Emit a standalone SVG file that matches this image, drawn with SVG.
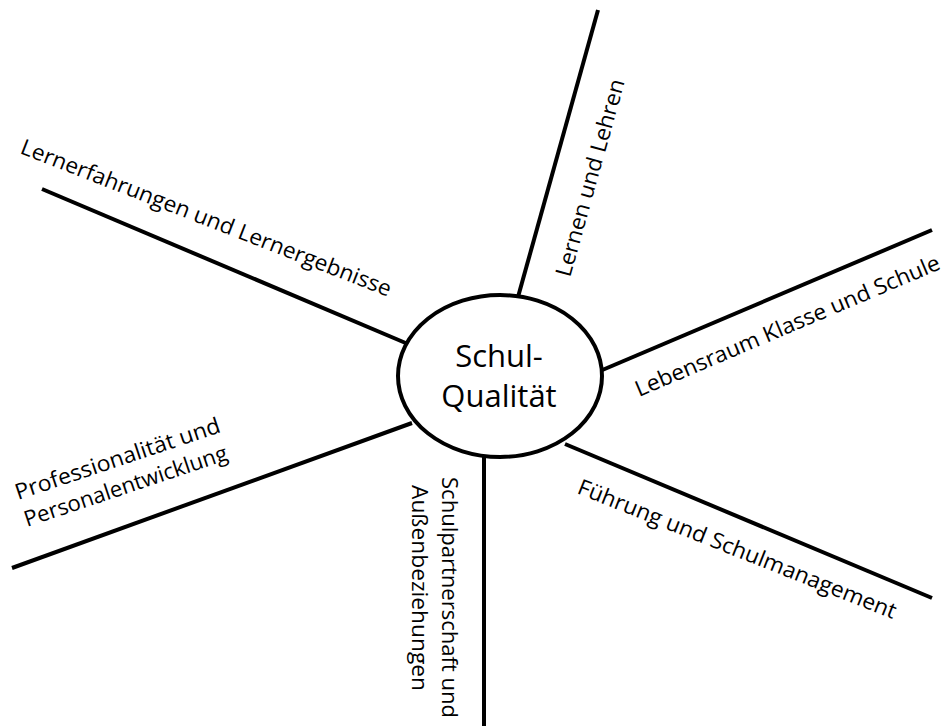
<svg xmlns="http://www.w3.org/2000/svg" width="944" height="726" viewBox="0 0 944 726">
  <style>
    .ln { stroke: #000; stroke-width: 4; fill: none; }
    .lbl { font-family: "Open Sans", "Noto Sans", sans-serif; font-size: 22px; fill: #000; }
    .ctr { font-family: "Open Sans", "Noto Sans", sans-serif; font-size: 31px; fill: #000; text-anchor: middle; }
  </style>
  <rect width="944" height="726" fill="#fff"/>
  <g id="connectors">
    <line class="ln" x1="518" y1="297" x2="598" y2="10"/>
    <line class="ln" x1="42" y1="189" x2="408" y2="344"/>
    <line class="ln" x1="600" y1="371" x2="932" y2="230"/>
    <line class="ln" x1="12" y1="568" x2="412" y2="423"/>
    <line class="ln" x1="484" y1="455" x2="484" y2="726"/>
    <line class="ln" x1="565" y1="444" x2="932" y2="598"/>
  </g>
  <g id="center">
    <ellipse cx="500" cy="376" rx="102" ry="81" fill="#fff" stroke="#000" stroke-width="4"/>
    <text class="ctr" x="499" y="367">Schul-</text>
    <text class="ctr" x="499" y="407">Qualität</text>
  </g>
  <g id="n-lernen-lehren">
    <text class="lbl" transform="translate(570,278) rotate(-74.4)" textLength="204" lengthAdjust="spacingAndGlyphs">Lernen und Lehren</text>
  </g>
  <g id="n-lernerfahrungen">
    <text class="lbl" transform="translate(19,153) rotate(21.3)" textLength="396" lengthAdjust="spacingAndGlyphs">Lernerfahrungen und Lernergebnisse</text>
  </g>
  <g id="n-lebensraum">
    <text class="lbl" transform="translate(639,397) rotate(-23)" textLength="329" lengthAdjust="spacingAndGlyphs">Lebensraum Klasse und Schule</text>
  </g>
  <g id="n-professionalitaet">
    <text class="lbl" transform="translate(18,500) rotate(-18.5)" textLength="215" lengthAdjust="spacingAndGlyphs">Professionalität und</text>
    <text class="lbl" transform="translate(27,527) rotate(-18.5)" textLength="213" lengthAdjust="spacingAndGlyphs">Personalentwicklung</text>
  </g>
  <g id="n-schulpartnerschaft">
    <text class="lbl" transform="translate(442,477) rotate(90)" textLength="241" lengthAdjust="spacingAndGlyphs">Schulpartnerschaft und</text>
    <text class="lbl" transform="translate(412,485) rotate(90)" textLength="206" lengthAdjust="spacingAndGlyphs">Außenbeziehungen</text>
  </g>
  <g id="n-fuehrung">
    <text class="lbl" transform="translate(576,493) rotate(21.7)" textLength="341" lengthAdjust="spacingAndGlyphs">Führung und Schulmanagement</text>
  </g>
</svg>
